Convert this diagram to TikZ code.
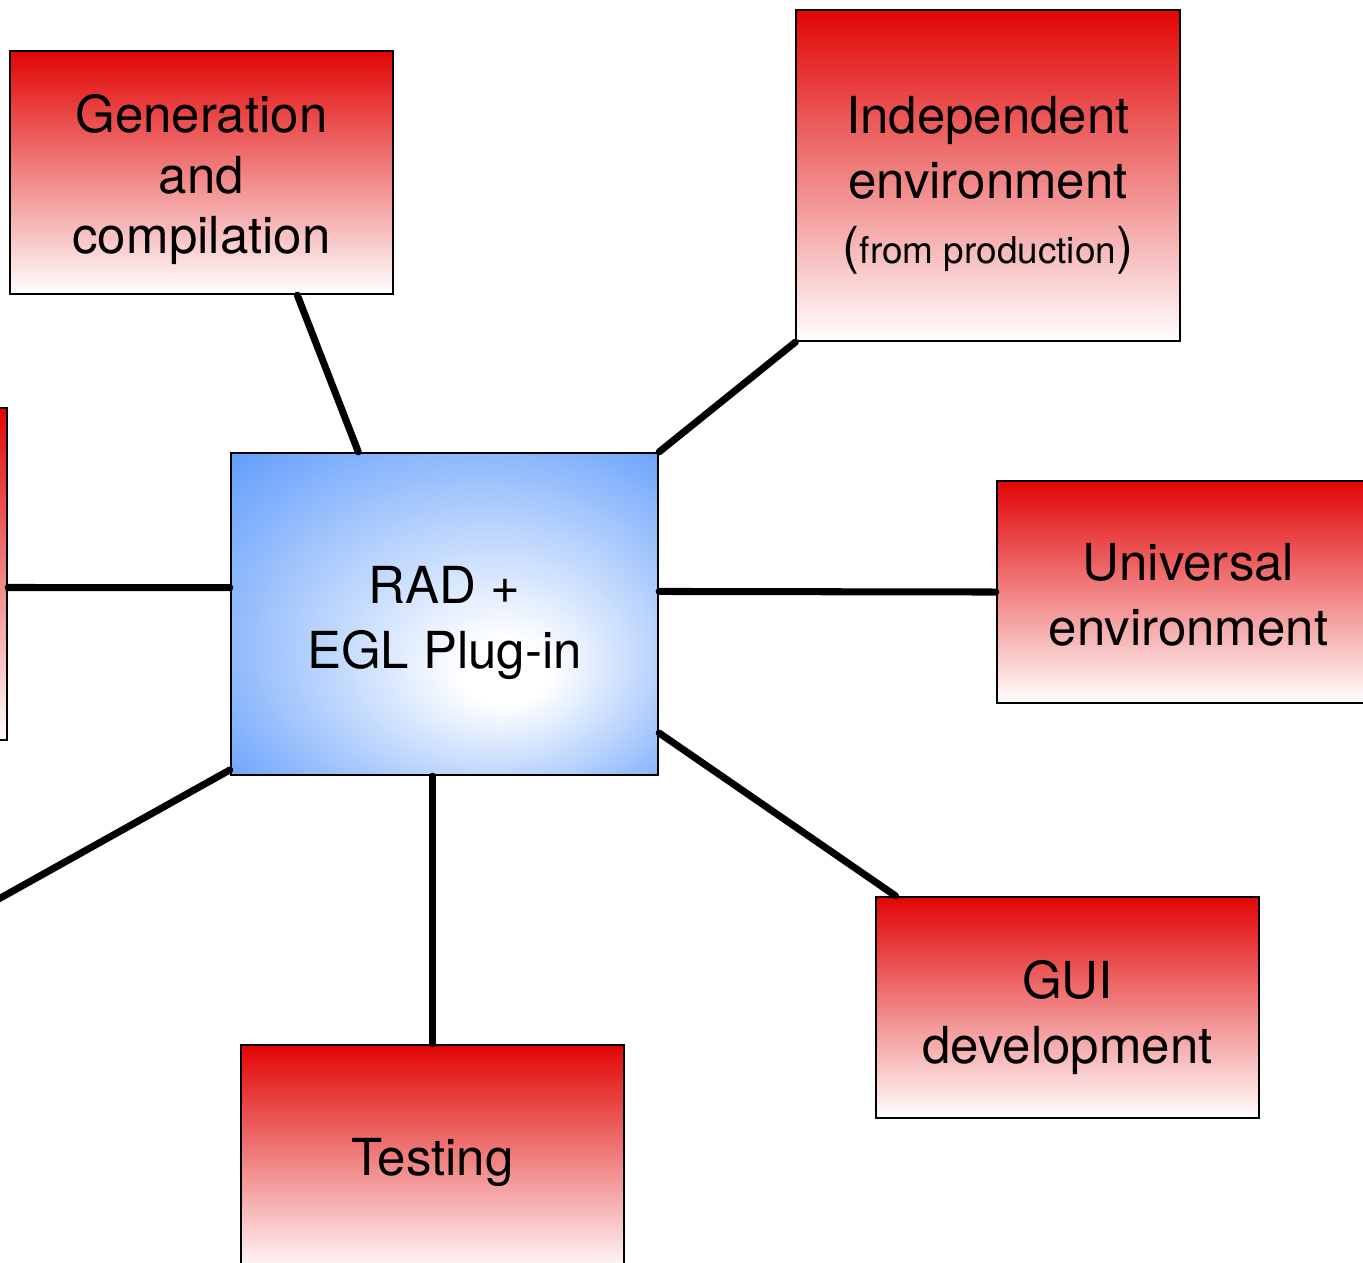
\documentclass[tikz,border=0pt]{standalone}
\usepackage{fontspec}
\setmainfont{TeX Gyre Heros}
\definecolor{redtop}{RGB}{226,5,5}
\definecolor{blueedge}{RGB}{70,140,250}
\pgfdeclareradialshading{hubglow}{\pgfpoint{8bp}{-10bp}}{color(0bp)=(white); color(5bp)=(white); color(44bp)=(blueedge); color(50bp)=(blueedge)}
\begin{document}
\begin{tikzpicture}[x=0.01cm, y=-0.01cm,
            font=\fontsize{14.5pt}{18.5pt}\selectfont,
            topic/.style={draw, line width=0.6pt, top color=redtop, bottom color=white, minimum width=3.83cm, inner sep=0pt},
            hubbox/.style={draw, line width=0.6pt, shade, shading=hubglow, minimum width=4.27cm, minimum height=3.22cm},
            words/.style={align=center, inner sep=0pt},
            link/.style={line width=2pt, line cap=round}]
            \useasboundingbox (0,0) rectangle (1363,1262);
            \clip (0,0) rectangle (1363,1262);
            \node(hub) at (444.5,614) [hubbox] {};
            \node(gen) at (201.5,172.5) [topic, minimum height=2.43cm] {};
            \node(indep) at (988,175.5) [topic, minimum height=3.31cm] {};
            \node(univ) at (1188.5,592) [topic, minimum height=2.22cm] {};
            \node(gui) at (1067.5,1007.5) [topic, minimum height=2.21cm] {};
            \node(test) at (432.5,1160) [topic, minimum height=2.30cm] {};
            \node(side) at (-184.5,574) [topic, minimum height=3.32cm] {};
            \node(hubtext) at (hub) [words, yshift=-0.09cm] {RAD +\\EGL Plug-in};
            \node(gentext) at (gen) [words, yshift=-0.07cm, font=\fontsize{14.5pt}{17.3pt}\selectfont] {Generation\\and\\compilation};
            \node(indeptext) at (indep) [words, yshift=-0.10cm] {Independent\\environment\\({\fontsize{10.5pt}{12pt}\selectfont from production})};
            \node(univtext) at (univ) [words, yshift=-0.03cm] {Universal\\environment};
            \node(guitext) at (gui) [words, yshift=-0.10cm] {GUI\\development};
            \node(testtext) at (test) [words, yshift=-0.02cm] {Testing};
            \coordinate(away) at (-100,954);
            \draw[link](hub.118) to (gen.-52);
            \draw[link](hub.north east) to (indep.south west);
            \draw[link](hub.6.4) to (univ.west);
            \draw[link](hub.-29.5) to (gui.147);
            \draw[link](test.north |- hub.south) to (test.north);
            \draw[link](hub.173.6) to (side.-4.8);
            \draw[link](hub.216) to (away);
\end{tikzpicture}
\end{document}
